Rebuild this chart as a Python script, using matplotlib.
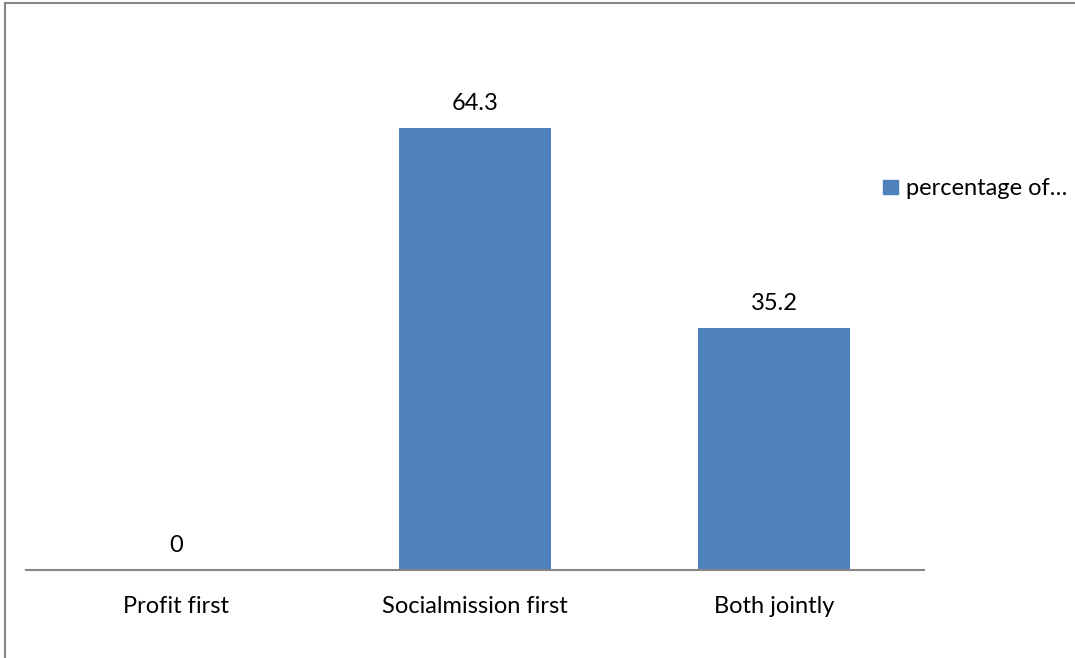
import matplotlib.pyplot as plt
from matplotlib.patches import Rectangle

categories = ["Profit first", "Socialmission first", "Both jointly"]
values = [0, 64.3, 35.2]
series_name = "percentage of\u2026"

plt.rcParams['font.family'] = ['Lato', 'DejaVu Sans']

W, H = 1075, 658
FS = 17
fig = plt.figure(figsize=(W / 100, H / 100), dpi=100)
ax = fig.add_axes([26 / W, 1 - 570 / H, (924 - 26) / W, (570 - 88.4) / H])

x = list(range(len(categories)))
ax.bar(x, values, width=0.507, color='#4f81bd')
ax.set_xlim(-0.5, len(categories) - 0.5)
ax.set_ylim(0, 70)

# value labels above bars
for xi, v in zip(x, values):
    ax.annotate(f"{v:g}", (xi, v), xytext=(0, 13), textcoords='offset points',
                ha='center', va='baseline', fontsize=FS, color='black')

# category labels under the axis line
for xi, c in zip(x, categories):
    ax.annotate(c, (xi, 0), xycoords=('data', 'axes fraction'), xytext=(0, -31),
                textcoords='offset points', ha='center', va='baseline',
                fontsize=FS, color='black')

for s in ['top', 'right', 'left']:
    ax.spines[s].set_visible(False)
ax.spines['bottom'].set_color('#868686')
ax.spines['bottom'].set_linewidth(1.5)
ax.set_yticks([])
ax.set_xticks([])

# legend
fig.patches.append(Rectangle((883 / W, 1 - 194 / H), 15 / W, 14 / H,
                             transform=fig.transFigure, color='#4f81bd'))
fig.text(906 / W, 1 - 195 / H, series_name, fontsize=FS, va='baseline', ha='left')

# outer chart border (cropped at right and bottom)
fig.patches.append(Rectangle((5 / W, -0.1), 1.2, 1.1 - 3 / H, transform=fig.transFigure,
                             fill=False, edgecolor='#868686', linewidth=1.5))

fig.savefig("out.png", dpi=100)
